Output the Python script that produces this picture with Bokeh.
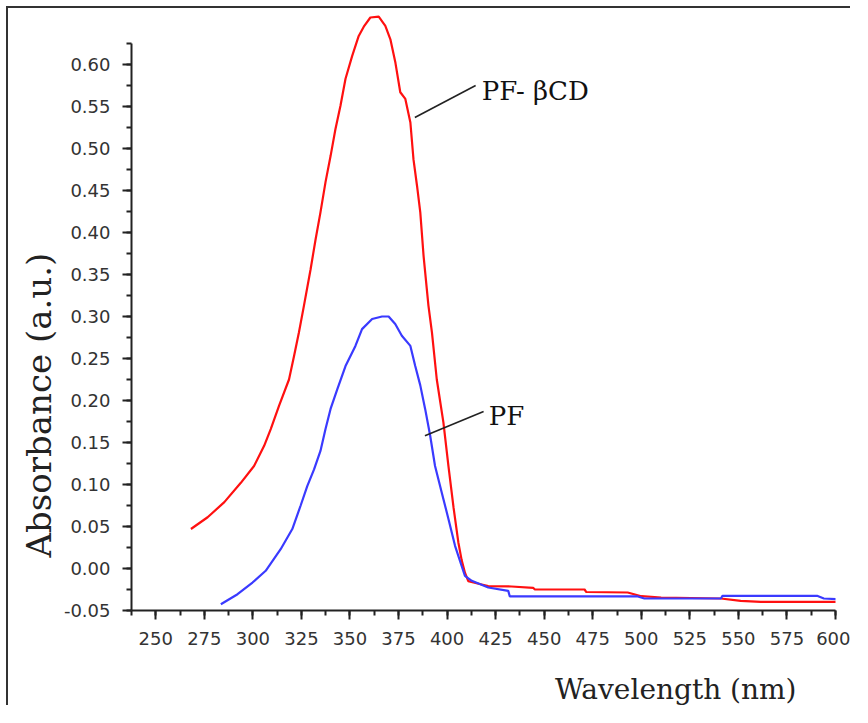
from bokeh.plotting import figure
from bokeh.layouts import column
from bokeh.models import FixedTicker, PrintfTickFormatter, Label, Range1d, Title, Div
from bokeh.embed import file_html
from bokeh.resources import INLINE

# ---- data ----
pf_bcd_nm = [268.1, 276.7, 285.3, 293.8, 300.6, 305.8, 309.2, 313.5, 318.6, 321.2, 323.7,
             326.3, 329.7, 332.3, 334.8, 337.4, 340.0, 342.5, 345.1, 347.7, 351.1, 354.5,
             357.1, 360.5, 364.8, 368.2, 370.8, 373.4, 375.9, 378.5, 381.1, 382.7, 384.5,
             386.2, 387.9, 390.4, 392.2, 394.7, 398.1, 400.7, 403.3, 405.8, 407.5, 409.2,
             410.9, 417.8, 421.2, 433.2, 444.3, 445.2, 470.8, 471.7, 493.0, 500.0, 510.2,
             541.0, 551.2, 561.5, 600.9]
pf_bcd_abs = [0.047, 0.061, 0.079, 0.102, 0.122, 0.146, 0.166, 0.194, 0.225, 0.253, 0.281,
              0.313, 0.356, 0.392, 0.424, 0.460, 0.491, 0.523, 0.551, 0.583, 0.610, 0.634,
              0.645, 0.656, 0.657, 0.646, 0.630, 0.602, 0.567, 0.559, 0.531, 0.487, 0.456,
              0.424, 0.372, 0.313, 0.281, 0.225, 0.174, 0.122, 0.073, 0.031, 0.010, -0.005,
              -0.015, -0.019, -0.021, -0.0214, -0.023, -0.025, -0.025, -0.028, -0.0286, -0.033, -0.0345,
              -0.0357, -0.0385, -0.0397, -0.0397]

pf_nm = [283.5, 292.1, 299.8, 306.6, 314.3, 320.3, 324.6, 328.0, 331.5, 334.8, 337.4,
         340.0, 343.4, 347.7, 352.8, 356.2, 361.4, 366.5, 369.9, 373.3, 376.7, 381.1,
         383.6, 386.2, 388.7, 391.3, 393.8, 397.3, 400.7, 404.1, 407.5, 409.2, 412.7,
         421.2, 431.5, 432.3, 498.2, 501.6, 541.0, 541.8, 590.5, 594.0, 600.9]
pf_abs = [-0.0425, -0.0306, -0.0167, -0.0027, 0.023, 0.047, 0.075, 0.098, 0.118, 0.140, 0.166,
          0.190, 0.213, 0.241, 0.265, 0.285, 0.297, 0.300, 0.300, 0.291, 0.277, 0.265,
          0.241, 0.218, 0.190, 0.158, 0.122, 0.090, 0.059, 0.027, 0.003, -0.0087, -0.0147,
          -0.0226, -0.0266, -0.0333, -0.0333, -0.0357, -0.0357, -0.0325, -0.0325, -0.0357, -0.0365]

x_major = [250, 275, 300, 325, 350, 375, 400, 425, 450, 475, 500, 525, 550, 575, 600]
y_major = [-0.05, 0.00, 0.05, 0.10, 0.15, 0.20, 0.25, 0.30, 0.35, 0.40, 0.45, 0.50, 0.55, 0.60]

series_names = ["PF- \u03b2CD", "PF"]
x_title = "Wavelength (nm)"
y_title = "Absorbance (a.u.)"
# annotation anchor points (data coordinates)
bcd_leader_x = [383.4, 414.7]
bcd_leader_y = [0.537, 0.575]
bcd_label_xy = (417.8, 0.568)
pf_leader_x = [388.6, 418.8]
pf_leader_y = [0.158, 0.187]
pf_label_xy = (421.4, 0.181)

X_MIN, X_MAX = 237.5, 600.0
Y_MIN, Y_AXIS_END, Y_MAX = -0.05, 0.625, 0.6667

x_minor = [X_MIN + 12.5 * i for i in range(int((X_MAX - X_MIN) / 12.5) + 1)]
y_minor = [round(Y_MIN + 0.025 * i, 4) for i in range(int(round((Y_AXIS_END - Y_MIN) / 0.025)) + 1)]

W, HP, HD = 850, 665, 40
p = figure(width=W, height=HP, output_backend="svg", toolbar_location=None,
           x_range=Range1d(X_MIN, X_MAX), y_range=Range1d(Y_MIN, Y_MAX),
           min_border_left=131, min_border_top=8, min_border_right=15, min_border_bottom=55)
p.margin = 0
p.styles = {"box-shadow": "inset 6px 6px 0 0 #ffffff, inset 8px 8px 0 0 #333333",
            "background-color": "#ffffff"}
p.outline_line_color = None
p.grid.visible = False
p.background_fill_color = "white"
p.border_fill_alpha = 0.0

for ax in (p.xaxis[0], p.yaxis[0]):
    ax.axis_line_color = "#222222"
    ax.axis_line_width = 2
    ax.major_tick_line_color = "#222222"
    ax.minor_tick_line_color = "#222222"
    ax.major_tick_line_width = 2
    ax.minor_tick_line_width = 2
    ax.major_tick_out = 9
    ax.major_tick_in = 0
    ax.minor_tick_out = 5
    ax.minor_tick_in = 0
    ax.major_label_text_font = "DejaVu Sans"
    ax.major_label_text_font_size = "18px"
    ax.major_label_text_color = "#333333"

p.xaxis.ticker = FixedTicker(ticks=x_major, minor_ticks=x_minor)
p.yaxis.ticker = FixedTicker(ticks=y_major, minor_ticks=y_minor)
p.xaxis.formatter = PrintfTickFormatter(format="%d")
p.yaxis.formatter = PrintfTickFormatter(format="%.2f")
p.xaxis.major_label_standoff = 12
p.yaxis.major_label_standoff = 12
p.yaxis.bounds = (Y_MIN, Y_AXIS_END)
p.xaxis.bounds = (X_MIN, X_MAX)

p.line(pf_bcd_nm, pf_bcd_abs, line_color="#ff1010", line_width=2.2)
p.line(pf_nm, pf_abs, line_color="#3a3aff", line_width=2.2)

p.line(bcd_leader_x, bcd_leader_y, line_color="#222222", line_width=1.6)
p.line(pf_leader_x, pf_leader_y, line_color="#222222", line_width=1.6)

p.add_layout(Label(x=bcd_label_xy[0], y=bcd_label_xy[1], text=series_names[0],
                   text_font="DejaVu Serif", text_font_size="26px", text_color="#111111",
                   text_baseline="alphabetic", text_align="left"))
p.add_layout(Label(x=pf_label_xy[0], y=pf_label_xy[1], text=series_names[1],
                   text_font="DejaVu Serif", text_font_size="26px", text_color="#111111",
                   text_baseline="alphabetic", text_align="left"))

yt = Title(text=y_title, align="left", offset=53, standoff=4,
           text_font="DejaVu Serif", text_font_size="34px", text_color="#222222",
           text_font_style="normal")
p.add_layout(yt, "left")

xdiv = Div(text=('<div style="padding-left:555px; padding-top:11px; '
                 'font-family:\'DejaVu Serif\'; font-size:28px; line-height:28px; '
                 'color:#222222; white-space:nowrap;">' + x_title + '</div>'),
           width=W, height=HD, margin=0,
           styles={"box-shadow": "inset 6px 0 0 0 #ffffff, inset 8px 0 0 0 #333333",
                   "background-color": "#ffffff", "overflow": "hidden"})

root = column(p, xdiv, spacing=0)
open("out.html", "w").write(file_html(root, INLINE))
